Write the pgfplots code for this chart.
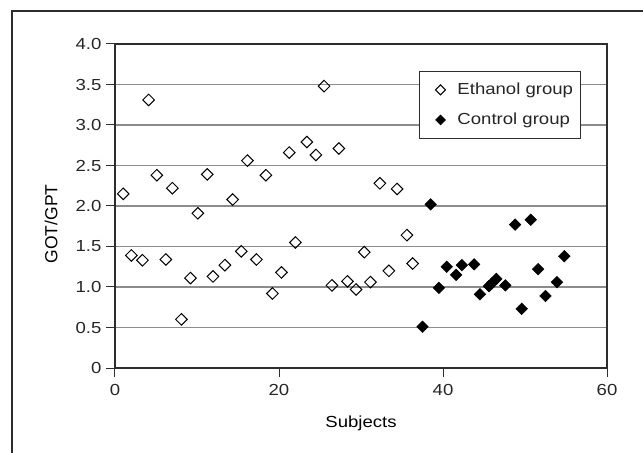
\documentclass[border=0pt]{standalone}
\usepackage{fontspec}
\setmainfont{Liberation Sans}[FakeStretch=1.16]
\newfontfamily\labelfont{Liberation Sans}
\usepackage{pgfplots}
\pgfplotsset{compat=1.18}

\pgfplotstableread{
x y
1.0 2.15
2.0 1.39
3.35 1.33
4.1 3.31
5.1 2.38
6.2 1.34
7.0 2.22
8.1 0.60
9.2 1.11
10.1 1.91
11.25 2.39
11.95 1.13
13.4 1.27
14.35 2.08
15.4 1.44
16.15 2.56
17.25 1.34
18.4 2.38
19.2 0.92
20.3 1.18
21.25 2.66
22.0 1.55
23.4 2.79
24.5 2.63
25.5 3.48
26.45 1.02
27.3 2.71
28.35 1.07
29.4 0.97
30.4 1.43
31.15 1.06
32.3 2.28
33.4 1.20
34.4 2.21
35.6 1.64
36.3 1.29
}\ethanol

\pgfplotstableread{
x y
37.5 0.51
38.5 2.02
39.5 0.99
40.45 1.25
41.6 1.15
42.3 1.27
43.8 1.28
44.5 0.91
45.6 1.01
46.0 1.05
46.5 1.10
47.6 1.02
48.8 1.77
49.6 0.73
50.7 1.83
51.6 1.22
52.5 0.89
53.9 1.06
54.8 1.38
}\control

\definecolor{gridgray}{RGB}{140,140,140}
\definecolor{axisdark}{RGB}{45,45,45}

\begin{document}
\begin{tikzpicture}[font=\fontsize{16bp}{19bp}\selectfont]
\useasboundingbox (-115bp,-85bp) rectangle (528bp,368bp);
\draw[axisdark, line width=1.4bp] (-103bp,-90bp) -- (-103bp,357bp) -- (535bp,357bp);
\begin{axis}[
  scale only axis,
  width=492bp, height=324bp,
  xmin=0, xmax=60, ymin=0, ymax=4,
  xtick={0,20,40,60},
  xticklabels={0,20,40,60},
  ytick={0,0.5,1,1.5,2,2.5,3,3.5,4},
  yticklabels={0,0.5,1.0,1.5,2.0,2.5,3.0,3.5,4.0},
  xtick pos=bottom, ytick pos=left,
  tick align=outside,
  major tick length=9bp,
  tick style={axisdark, line width=1bp},
  axis line style={axisdark, line width=1.1bp},
  ymajorgrids,
  grid style={gridgray, line width=1.3bp},
  tick label style={font=\fontsize{16bp}{19bp}\selectfont, text=black!85},
  yticklabel style={xshift=-1bp},
  xticklabel style={yshift=-4bp},
  label style={font=\fontsize{16bp}{19bp}\selectfont, text=black!85},
  xlabel={Subjects},
  ylabel={\labelfont\fontsize{17.5bp}{20bp}\selectfont GOT/GPT},
  every axis x label/.style={at={(0.5,0)}, anchor=center, yshift=-55bp},
  every axis y label/.style={at={(0,0.5)}, anchor=center, xshift=-64bp, yshift=-18bp, rotate=90},
  legend style={
    at={(0.618,0.917)}, anchor=north west,
    draw=axisdark, line width=0.9bp,
    font=\fontsize{16bp}{19bp}\selectfont, text=black!85,
    inner xsep=5bp, inner ysep=10bp,
    row sep=13bp,
    cells={anchor=west},
  },
  legend image code/.code={
    \path[draw=none, fill=none] (0bp,-5bp) rectangle (26bp,5bp);
    \draw[#1, mark size=3.5bp] plot coordinates {(16bp,0bp)};
  },
]
\addplot[only marks, mark=square, mark size=4.1bp,
  mark options={rotate=45, draw=black, fill=white, line width=1bp}]
  table[x=x, y=y] {\ethanol};
\addlegendentry{\hspace{5bp}Ethanol group}
\addplot[only marks, mark=square*, mark size=4.1bp,
  mark options={rotate=45, draw=black, fill=black, line width=0.5bp}]
  table[x=x, y=y] {\control};
\addlegendentry{\hspace{5bp}Control group}
\end{axis}
\end{tikzpicture}
\end{document}
